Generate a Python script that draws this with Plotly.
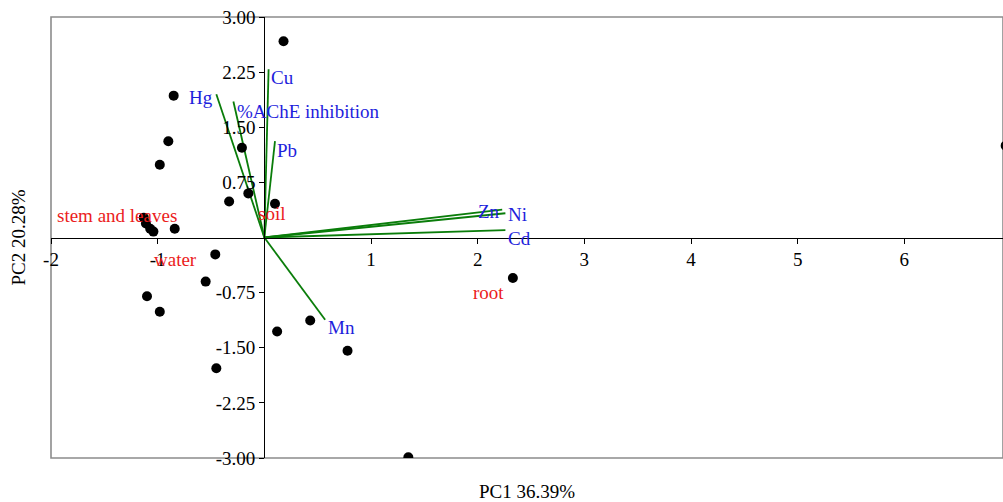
import plotly.graph_objects as go

# Sample scores (PC1, PC2)
score_x = [0.18, -0.85, -0.90, -0.98, -0.21, -0.15, -0.33, 0.10,
           -1.13, -1.11, -1.07, -1.04, -0.84,
           -0.46, -0.55, -1.10, -0.98, 0.12, 0.43, 0.78, -0.45, 1.35, 2.33, 6.95]
score_y = [2.67, 1.93, 1.31, 0.99, 1.22, 0.60, 0.49, 0.46,
           0.27, 0.19, 0.12, 0.08, 0.12,
           -0.23, -0.60, -0.80, -1.01, -1.28, -1.13, -1.54, -1.78, -2.99, -0.55, 1.25]

# Variable loadings (vector end points)
var_names = ["Cu", "Hg", "%AChE inhibition", "Pb", "Zn", "Ni", "Cd", "Mn"]
load_x = [0.04, -0.45, -0.29, 0.10, 2.23, 2.26, 2.26, 0.57]
load_y = [2.29, 1.95, 1.85, 1.31, 0.38, 0.33, 0.10, -1.12]
# label positions for the variable names
var_lab_x = [0.066, -0.48, -0.26, 0.12, 2.00, 2.28, 2.28, 0.60]
var_lab_y = [2.18, 1.90, 1.72, 1.18, 0.35, 0.31, -0.02, -1.23]
var_lab_anchor = ["left", "right", "left", "left", "left", "left", "left", "left"]

# Group labels
group_names = ["stem and leaves", "soil", "water", "root"]
group_x = [-1.94, -0.06, -1.03, 1.96]
group_y = [0.30, 0.32, -0.30, -0.75]

x_tickvals = [-2, -1, 1, 2, 3, 4, 5, 6]
x_ticktext = ["-2", "-1", "1", "2", "3", "4", "5", "6"]
y_tickvals = [3.0, 2.25, 1.5, 0.75, -0.75, -1.5, -2.25, -3.0]
y_ticktext = ["3.00", "2.25", "1.50", "0.75", "-0.75", "-1.50", "-2.25", "-3.00"]

x_title = "PC1 36.39%"
y_title = "PC2 20.28%"

XMIN, XMAX = -2.0, 6.925
YMIN, YMAX = -3.0, 3.0

FONT = "Liberation Serif, Times New Roman, serif"
BLUE = "rgb(30,30,220)"
RED = "rgb(235,28,28)"
GREEN = "rgb(10,125,10)"

lx, ly = [], []
for x, y in zip(load_x, load_y):
    lx += [0, x, None]
    ly += [0, y, None]

fig = go.Figure()
fig.add_trace(go.Scatter(x=lx, y=ly, mode="lines",
                         line=dict(color=GREEN, width=1.8),
                         hoverinfo="skip", showlegend=False))
fig.add_trace(go.Scatter(x=score_x, y=score_y, mode="markers",
                         marker=dict(color="black", size=10),
                         showlegend=False))

annotations = []
for name, x, y, a in zip(var_names, var_lab_x, var_lab_y, var_lab_anchor):
    annotations.append(dict(x=x, y=y, xref="x", yref="y", text=name,
                            showarrow=False, xanchor=a, yanchor="middle",
                            xshift=-2 if a == "left" else 2,
                            font=dict(family=FONT, size=19, color=BLUE)))
for name, x, y in zip(group_names, group_x, group_y):
    annotations.append(dict(x=x, y=y, xref="x", yref="y", text=name,
                            showarrow=False, xanchor="left", yanchor="middle",
                            xshift=-2,
                            font=dict(family=FONT, size=19, color=RED)))
annotations.append(dict(x=0.5, y=0, xref="paper", yref="paper", text=x_title,
                        showarrow=False, yshift=-33, xanchor="center", yanchor="middle",
                        font=dict(family=FONT, size=19, color="black")))
annotations.append(dict(x=0, y=0.5, xref="paper", yref="paper", text=y_title,
                        showarrow=False, xshift=-33, textangle=-90,
                        xanchor="center", yanchor="middle",
                        font=dict(family=FONT, size=19, color="black")))

fig.update_layout(
    width=1003, height=502,
    margin=dict(l=51, r=0, t=17, b=44),
    paper_bgcolor="white", plot_bgcolor="white",
    font=dict(family=FONT, size=19, color="black"),
    annotations=annotations,
    shapes=[dict(type="rect", xref="paper", yref="paper", x0=0, x1=1, y0=0, y1=1,
                 line=dict(color="rgb(140,140,140)", width=1.6), layer="below")],
    xaxis=dict(range=[XMIN, XMAX], anchor="free",
               position=(0 - YMIN) / (YMAX - YMIN),
               showline=True, linecolor="black", linewidth=1.3,
               ticks="outside", ticklen=5, tickcolor="black",
               tickvals=x_tickvals, ticktext=x_ticktext,
               showgrid=False, zeroline=False,
               tickfont=dict(family=FONT, size=19, color="black")),
    yaxis=dict(range=[YMIN, YMAX], anchor="free",
               position=(0 - XMIN) / (XMAX - XMIN),
               showline=True, linecolor="black", linewidth=1.3,
               ticks="outside", ticklen=5, tickcolor="black",
               tickvals=y_tickvals, ticktext=y_ticktext,
               showgrid=False, zeroline=False,
               tickfont=dict(family=FONT, size=19, color="black")),
)

fig.write_html("out.html", config={"displayModeBar": False},
               post_script="document.body.style.margin='0';document.body.style.overflow='hidden';")
